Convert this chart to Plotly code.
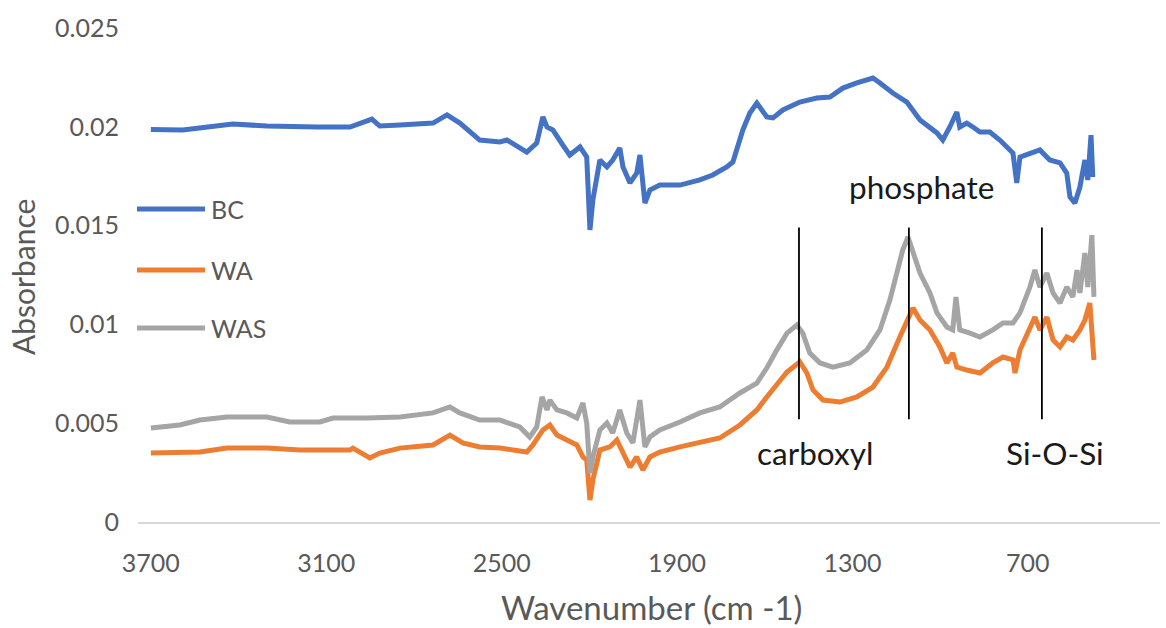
import plotly.graph_objects as go

# ---------------- data ----------------
bc_wn = [3700, 3591, 3420, 3303, 3132, 3019, 2944, 2917, 2848, 2735, 2687, 2643, 2575, 2506, 2482,
         2414, 2380, 2359, 2345, 2325, 2291, 2267, 2232, 2209, 2198, 2188, 2164, 2140, 2120, 2096,
         2085, 2061, 2038, 2027, 2010, 1993, 1959, 1890, 1822, 1778, 1730, 1709, 1675, 1651, 1627,
         1593, 1572, 1538, 1480, 1422, 1377, 1333, 1285, 1230, 1206, 1162, 1114, 1069, 1011, 991,
         967, 943, 933, 909, 888, 864, 830, 796, 751, 738, 727, 693, 659, 625, 590, 567, 556, 539,
         522, 505, 495, 484, 478]
bc_abs = [0.01986, 0.01984, 0.02014, 0.02004, 0.01999, 0.01999, 0.02039, 0.02004, 0.02009, 0.02019,
          0.02060, 0.02019, 0.01933, 0.01923, 0.01933, 0.01872, 0.01918, 0.02050, 0.01999, 0.01984,
          0.01908, 0.01857, 0.01898, 0.01847, 0.01478, 0.01630, 0.01832, 0.01797, 0.01832, 0.01893,
          0.01797, 0.01716, 0.01766, 0.01857, 0.01614, 0.01680, 0.01705, 0.01705, 0.01731, 0.01756,
          0.01797, 0.01822, 0.01984, 0.02070, 0.02120, 0.02050, 0.02045, 0.02085, 0.02125, 0.02146,
          0.02151, 0.02196, 0.02222, 0.02247, 0.02222, 0.02171, 0.02125, 0.02034, 0.01969, 0.01933,
          0.01999, 0.02075, 0.01999, 0.02019, 0.01999, 0.01974, 0.01974, 0.01933, 0.01867, 0.01716,
          0.01847, 0.01867, 0.01883, 0.01832, 0.01817, 0.01766, 0.01645, 0.01614, 0.01695, 0.01832,
          0.01731, 0.01958, 0.01746]

wa_wn = [3700, 3532, 3440, 3303, 3190, 3019, 3009, 2951, 2917, 2848, 2735, 2677, 2633, 2575, 2506,
         2414, 2393, 2359, 2335, 2311, 2277, 2243, 2222, 2209, 2198, 2188, 2164, 2130, 2106, 2085,
         2061, 2038, 2017, 1993, 1959, 1890, 1822, 1754, 1685, 1627, 1593, 1559, 1524, 1480, 1456,
         1435, 1401, 1343, 1285, 1230, 1182, 1138, 1114, 1093, 1069, 1035, 1001, 977, 957, 943,
         909, 864, 820, 785, 751, 744, 727, 693, 676, 659, 635, 614, 590, 567, 546, 522, 505, 488,
         481, 474]
wa_abs = [0.00349, 0.00354, 0.00374, 0.00374, 0.00364, 0.00364, 0.00374, 0.00324, 0.00349, 0.00374,
          0.00390, 0.00440, 0.00400, 0.00380, 0.00374, 0.00354, 0.00390, 0.00466, 0.00491, 0.00440,
          0.00415, 0.00390, 0.00329, 0.00314, 0.00111, 0.00213, 0.00364, 0.00380, 0.00415, 0.00349,
          0.00278, 0.00329, 0.00263, 0.00329, 0.00354, 0.00380, 0.00400, 0.00425, 0.00491, 0.00567,
          0.00633, 0.00693, 0.00759, 0.00810, 0.00754, 0.00668, 0.00617, 0.00607, 0.00633, 0.00683,
          0.00784, 0.00936, 0.01022, 0.01083, 0.01022, 0.00972, 0.00886, 0.00805, 0.00855, 0.00784,
          0.00769, 0.00754, 0.00805, 0.00835, 0.00820, 0.00754, 0.00870, 0.00972, 0.01037, 0.00972,
          0.01037, 0.00921, 0.00886, 0.00936, 0.00921, 0.00972, 0.01022, 0.01108, 0.00921, 0.00820]

was_wn = [3700, 3601, 3532, 3440, 3303, 3225, 3122, 3077, 2961, 2848, 2735, 2677, 2643, 2575, 2506,
          2438, 2404, 2380, 2362, 2345, 2335, 2311, 2277, 2243, 2222, 2209, 2198, 2188, 2164, 2140,
          2120, 2096, 2072, 2051, 2027, 2010, 1993, 1959, 1890, 1822, 1754, 1685, 1627, 1593, 1559,
          1524, 1490, 1470, 1446, 1411, 1367, 1309, 1251, 1206, 1172, 1148, 1128, 1110, 1093, 1069,
          1035, 1011, 977, 957, 946, 933, 898, 864, 820, 785, 751, 727, 693, 676, 659, 635, 614, 590,
          567, 546, 532, 522, 505, 495, 481, 474]
was_abs = [0.00476, 0.00491, 0.00516, 0.00531, 0.00531, 0.00506, 0.00506, 0.00526, 0.00526, 0.00531,
           0.00552, 0.00582, 0.00552, 0.00516, 0.00516, 0.00481, 0.00430, 0.00481, 0.00633, 0.00567,
           0.00617, 0.00567, 0.00552, 0.00526, 0.00602, 0.00501, 0.00248, 0.00329, 0.00466, 0.00501,
           0.00450, 0.00567, 0.00450, 0.00400, 0.00617, 0.00380, 0.00430, 0.00466, 0.00506, 0.00552,
           0.00582, 0.00653, 0.00703, 0.00779, 0.00870, 0.00956, 0.00997, 0.00956, 0.00855, 0.00805,
           0.00784, 0.00805, 0.00870, 0.00972, 0.01123, 0.01260, 0.01377, 0.01442, 0.01361, 0.01260,
           0.01159, 0.01058, 0.00987, 0.00972, 0.01139, 0.00972, 0.00956, 0.00936, 0.00972, 0.01007,
           0.01007, 0.01058, 0.01189, 0.01275, 0.01189, 0.01260, 0.01159, 0.01108, 0.01189, 0.01139,
           0.01275, 0.01159, 0.01361, 0.01189, 0.01452, 0.01139]

series_names = ["BC", "WA", "WAS"]
series_colors = ["#4472C4", "#ED7D31", "#A5A5A5"]

x_ticks = [3700, 3100, 2500, 1900, 1300, 700]
y_ticks = [0, 0.005, 0.01, 0.015, 0.02, 0.025]
y_ticklabels = ["0", "0.005", "0.01", "0.015", "0.02", "0.025"]

band_names = ["carboxyl", "phosphate", "Si-O-Si"]
band_wn = [1483, 1107, 652]

# ---------------- figure ----------------
FONT = "Lato"
TICK_COLOR = "#595959"

fig = go.Figure()
for wn, ab, name, col in zip([bc_wn, wa_wn, was_wn], [bc_abs, wa_abs, was_abs],
                             series_names, series_colors):
    fig.add_trace(go.Scatter(x=wn, y=ab, mode="lines", name=name,
                             line=dict(color=col, width=5), showlegend=False))

# band marker lines
for wn in band_wn:
    fig.add_shape(type="line", xref="x", yref="y", x0=wn, x1=wn, y0=0.0052, y1=0.0149,
                  line=dict(color="#000000", width=1.8))

# band labels
label_pos = {"carboxyl": (1429, 0.00349), "phosphate": (1063, 0.01695), "Si-O-Si": (608, 0.00349)}
for name in band_names:
    lx, ly = label_pos[name]
    fig.add_annotation(x=lx, y=ly, xref="x", yref="y", text=name, showarrow=False,
                       font=dict(family=FONT, size=31.5, color="#1a1a1a"),
                       xanchor="center", yanchor="middle")

# manual legend (line samples + labels) inside the plot area
leg_y = [0.6336, 0.5101, 0.3927]
for yy, name, col in zip(leg_y, series_names, series_colors):
    fig.add_shape(type="line", xref="paper", yref="paper", x0=-0.001, x1=0.0656, y0=yy, y1=yy,
                  line=dict(color=col, width=5))
    fig.add_annotation(x=0.069, y=yy, xref="paper", yref="paper", text=name, showarrow=False,
                       font=dict(family=FONT, size=25, color=TICK_COLOR),
                       xanchor="left", yanchor="middle")

# axis titles
fig.add_annotation(x=-0.1125, y=0.496, xref="paper", yref="paper", text="Absorbance",
                   textangle=-90, showarrow=False,
                   font=dict(family=FONT, size=30, color=TICK_COLOR),
                   xanchor="center", yanchor="middle")
fig.add_annotation(x=0.502, y=-0.172, xref="paper", yref="paper", text="Wavenumber (cm -1)",
                   showarrow=False, font=dict(family=FONT, size=33, color=TICK_COLOR),
                   xanchor="center", yanchor="middle")

fig.update_layout(
    width=1166, height=628,
    margin=dict(l=138, r=6, t=28, b=106),
    paper_bgcolor="white", plot_bgcolor="white",
    font=dict(family=FONT, size=25, color=TICK_COLOR),
    xaxis=dict(range=[3744, 248], tickvals=x_ticks, ticktext=[str(v) for v in x_ticks],
               showgrid=False, zeroline=False, showline=True, linecolor="#d9d9d9",
               linewidth=1.5, ticks="", ticklabelstandoff=18,
               tickfont=dict(family=FONT, size=25, color=TICK_COLOR)),
    yaxis=dict(range=[0, 0.025], tickvals=y_ticks, ticktext=y_ticklabels,
               showgrid=False, zeroline=False, showline=False, ticks="",
               ticklabelstandoff=18,
               tickfont=dict(family=FONT, size=25, color=TICK_COLOR)),
)

fig.write_html("out.html")
